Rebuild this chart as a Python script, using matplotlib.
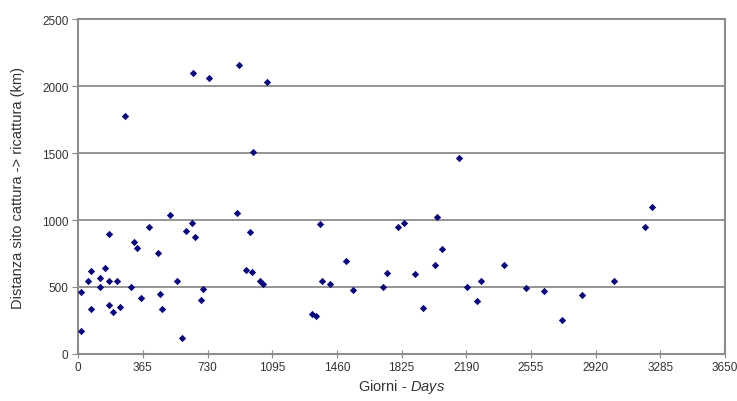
import matplotlib.pyplot as plt

plt.rcParams['font.family'] = ['Liberation Sans', 'DejaVu Sans']
plt.rcParams['mathtext.fontset'] = 'custom'
plt.rcParams['mathtext.it'] = 'Liberation Sans:italic'
plt.rcParams['mathtext.rm'] = 'Liberation Sans'

# days between capture and recapture
days = [19, 19, 54, 73, 73, 122, 122, 152, 174, 174, 174, 197, 219, 236,
        264, 301, 313, 331, 352, 402, 453, 464, 475, 520, 558, 586, 607,
        640, 646, 657, 691, 702, 741, 897, 908, 947, 970, 981, 986, 1026,
        1043, 1063, 1320, 1342, 1365, 1376, 1421, 1509, 1548,
        1722, 1744, 1802, 1836, 1898, 1946, 2014, 2025, 2053, 2150, 2195,
        2252, 2274, 2401, 2525, 2626, 2731, 2841, 3024, 3195, 3236]
# distance in km
dist = [174, 460, 542, 617, 336, 570, 498, 640, 896, 542, 366, 311, 542, 351,
        1780, 498, 838, 791, 418, 948, 754, 448, 336, 1037, 542, 119, 918,
        978, 2094, 873, 401, 483, 2064, 1052, 2158, 624, 911, 610, 1507, 542,
        520, 2027, 298, 284, 970, 542, 520, 692, 478,
        497, 602, 947, 977, 594, 343, 666, 1022, 783, 1465, 497,
        395, 542, 666, 490, 468, 254, 438, 542, 947, 1097]

xticks = [0, 365, 730, 1095, 1460, 1825, 2190, 2555, 2920, 3285, 3650]
yticks = [0, 500, 1000, 1500, 2000, 2500]

fig = plt.figure(figsize=(7.37, 4.02), dpi=100)
ax = fig.add_axes([0.106, 0.117, 0.878, 0.833])

ax.scatter(days, dist, marker='D', s=14, color='#0a0a78', zorder=3, linewidths=0)

ax.set_xlim(0, 3650)
ax.set_ylim(0, 2500)
ax.set_xticks(xticks)
ax.set_yticks(yticks)
ax.grid(axis='y', color='#8c8c8c', linewidth=1.3)
ax.set_axisbelow(True)

for s in ax.spines.values():
    s.set_color('#8c8c8c')
    s.set_linewidth(1.5)

ax.tick_params(axis='x', direction='inout', length=6, color='#8c8c8c',
               labelsize=8.5, labelcolor='#333333', pad=2)
ax.tick_params(axis='y', direction='out', length=4, color='#8c8c8c',
               labelsize=8.5, labelcolor='#333333', pad=3)

ax.set_xlabel('Giorni - $\\it{Days}$', fontsize=10.5, color='#333333', labelpad=3)
ax.set_ylabel('Distanza sito cattura -> ricattura (km)', fontsize=10.5,
              color='#333333', labelpad=12)

fig.savefig('out.png', dpi=100)
